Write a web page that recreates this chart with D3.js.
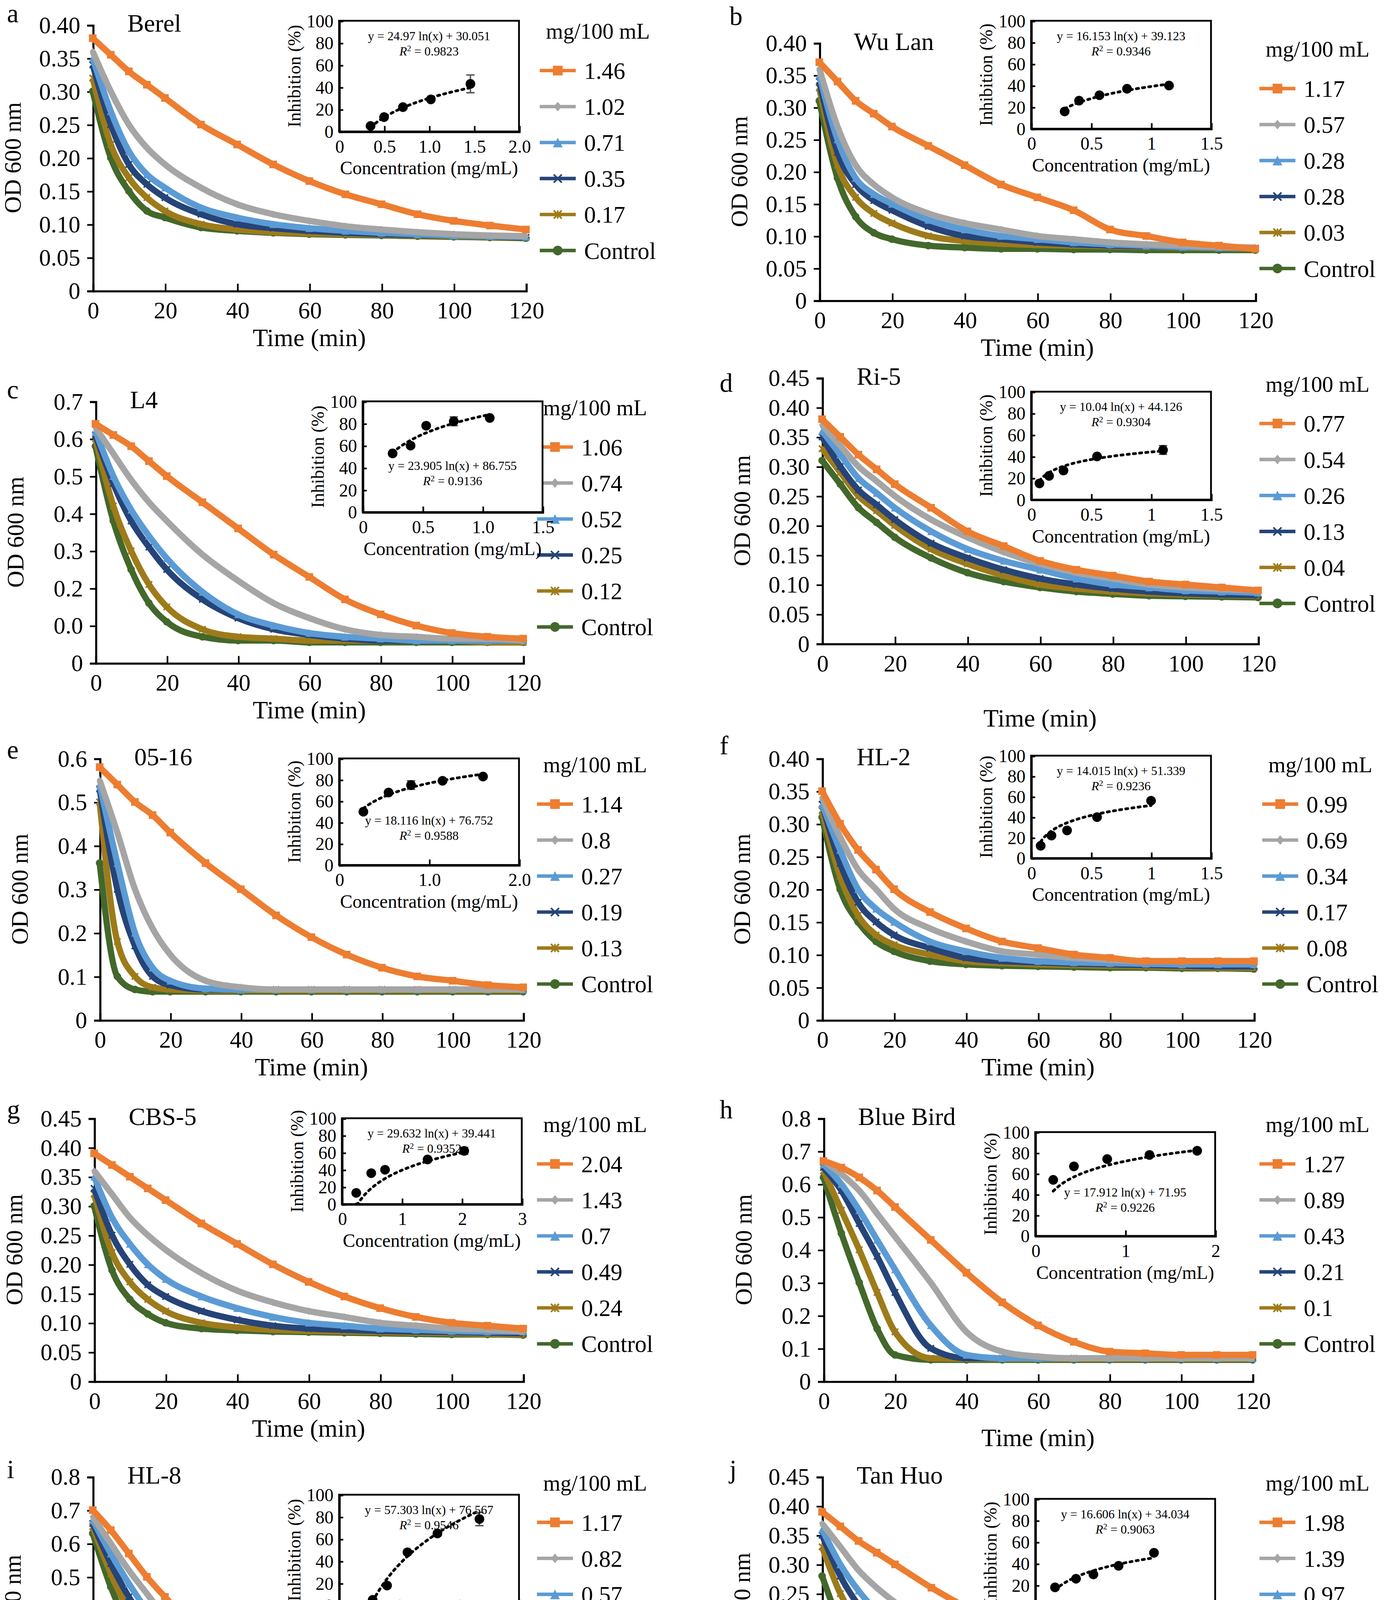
<!DOCTYPE html>
<html><head><meta charset="utf-8">
<script src="https://cdn.jsdelivr.net/npm/d3@7/dist/d3.min.js"></script>
<style>html,body{margin:0;padding:0;background:#fff;overflow:hidden}svg{display:block;width:100vw;height:auto}text{font-family:"Liberation Serif","Times New Roman",serif;fill:#000}</style>
</head><body><svg id="c" viewBox="0 0 1000 1564" preserveAspectRatio="xMinYMin meet"></svg>
<script>
const times=[0,5,10,15,20,30,40,50,60,70,80,90,100,110,120];
const colors=["#ED7D31","#A5A5A5","#5B9BD5","#264478","#9E7B1A","#43682B"];
const markers=["square","diamond","triangle","x","star","circle"];

const panelLetters=["a","b","c","d","e","f","g","h","i","j","k"];
const sampleNames=["Berel","Wu Lan","L4","Ri-5","05-16","HL-2","CBS-5","Blue Bird","HL-8","Tan Huo","Blue Gentle"];
const legendLabels=[
["1.46","1.02","0.71","0.35","0.17","Control"],
["1.17","0.57","0.28","0.28","0.03","Control"],
["1.06","0.74","0.52","0.25","0.12","Control"],
["0.77","0.54","0.26","0.13","0.04","Control"],
["1.14","0.8","0.27","0.19","0.13","Control"],
["0.99","0.69","0.34","0.17","0.08","Control"],
["2.04","1.43","0.7","0.49","0.24","Control"],
["1.27","0.89","0.43","0.21","0.1","Control"],
["1.17","0.82","0.57","0.4","0.28","Control"],
["1.98","1.39","0.97","0.68","0.33","Control"],
["2.04","1.43","1","0.7","0.34","Control"]];
const yMax=[0.40,0.40,0.7,0.45,0.6,0.40,0.45,0.8,0.8,0.45,0.40];
const yStep=[0.05,0.05,0.1,0.05,0.1,0.05,0.05,0.1,0.1,0.05,0.05];
const yTickLabelsC=["0","0.0","0.2","0.3","0.4","0.5","0.6","0.7"];
const xTicks=[0,20,40,60,80,100,120];

const od=[
[[.38,.355,.33,.31,.29,.25,.22,.19,.165,.145,.13,.115,.105,.098,.092],
 [.36,.30,.25,.215,.19,.155,.13,.115,.105,.097,.092,.088,.085,.083,.082],
 [.35,.27,.21,.175,.155,.125,.11,.10,.094,.09,.087,.085,.083,.082,.081],
 [.34,.25,.19,.16,.14,.115,.10,.094,.09,.087,.085,.084,.083,.082,.08],
 [.32,.22,.17,.14,.12,.10,.092,.088,.086,.085,.084,.083,.082,.081,.08],
 [.30,.20,.15,.12,.11,.095,.09,.087,.085,.084,.083,.082,.081,.08,.079]],
[[.37,.34,.31,.29,.27,.24,.21,.18,.16,.14,.11,.10,.09,.085,.08],
 [.36,.27,.21,.18,.16,.135,.12,.11,.10,.095,.09,.087,.085,.083,.082],
 [.35,.25,.19,.165,.15,.125,.11,.10,.095,.09,.087,.085,.083,.082,.081],
 [.34,.23,.18,.155,.14,.115,.10,.095,.09,.087,.085,.084,.083,.082,.081],
 [.33,.21,.16,.135,.12,.10,.092,.088,.086,.085,.084,.083,.082,.081,.08],
 [.31,.19,.13,.105,.095,.085,.082,.08,.08,.079,.079,.078,.078,.078,.078]],
[[.64,.61,.58,.54,.50,.43,.36,.29,.23,.17,.13,.10,.08,.07,.065],
 [.63,.56,.49,.43,.38,.29,.22,.16,.12,.09,.075,.07,.065,.065,.06],
 [.62,.50,.41,.34,.28,.19,.13,.10,.08,.07,.065,.06,.06,.06,.06],
 [.61,.48,.38,.31,.25,.17,.12,.09,.075,.065,.06,.06,.06,.06,.06],
 [.60,.42,.30,.21,.15,.09,.07,.065,.06,.06,.06,.06,.06,.055,.055],
 [.58,.38,.25,.16,.11,.07,.06,.06,.055,.055,.055,.055,.055,.055,.055]],
[[.38,.35,.32,.295,.27,.23,.19,.165,.14,.125,.115,.105,.10,.095,.09],
 [.37,.335,.30,.275,.25,.21,.18,.155,.135,.12,.11,.10,.095,.092,.09],
 [.36,.32,.28,.255,.23,.19,.16,.14,.125,.11,.10,.095,.09,.088,.086],
 [.35,.30,.26,.235,.21,.17,.145,.125,.11,.10,.093,.088,.085,.083,.082],
 [.33,.29,.25,.225,.20,.16,.135,.115,.10,.093,.088,.085,.083,.082,.081],
 [.31,.27,.23,.205,.18,.145,.12,.105,.095,.088,.084,.081,.08,.079,.078]],
[[.58,.54,.50,.47,.43,.36,.30,.24,.19,.15,.12,.10,.09,.08,.075],
 [.55,.43,.30,.21,.15,.09,.075,.07,.07,.07,.07,.07,.07,.07,.07],
 [.54,.36,.20,.12,.09,.072,.07,.07,.07,.07,.07,.07,.07,.07,.07],
 [.53,.30,.17,.10,.08,.07,.07,.07,.07,.07,.07,.07,.07,.07,.07],
 [.50,.18,.10,.075,.07,.068,.068,.068,.068,.068,.068,.068,.068,.068,.068],
 [.36,.10,.07,.065,.065,.065,.065,.065,.065,.065,.065,.065,.065,.065,.065]],
[[.35,.30,.26,.23,.20,.165,.14,.12,.11,.10,.095,.09,.09,.09,.09],
 [.34,.28,.23,.20,.17,.14,.12,.105,.10,.095,.092,.09,.09,.09,.09],
 [.33,.26,.20,.17,.15,.12,.105,.095,.09,.088,.087,.086,.085,.085,.085],
 [.33,.24,.18,.15,.13,.11,.095,.09,.088,.086,.085,.084,.083,.082,.082],
 [.32,.22,.16,.13,.115,.10,.09,.087,.085,.084,.083,.082,.081,.08,.08],
 [.31,.20,.15,.12,.105,.09,.085,.083,.082,.081,.08,.08,.079,.079,.078]],
[[.39,.37,.35,.33,.31,.27,.235,.20,.17,.145,.125,.11,.10,.095,.09],
 [.36,.32,.28,.25,.225,.185,.155,.135,.12,.11,.10,.095,.09,.088,.085],
 [.35,.28,.235,.20,.175,.145,.125,.11,.10,.095,.09,.088,.086,.085,.085],
 [.33,.25,.20,.165,.145,.12,.105,.095,.09,.088,.086,.085,.084,.083,.082],
 [.32,.22,.17,.14,.12,.10,.092,.088,.086,.085,.084,.083,.082,.081,.08],
 [.30,.19,.14,.115,.10,.09,.087,.085,.084,.083,.082,.081,.08,.08,.079]],
[[.67,.65,.62,.58,.53,.43,.33,.24,.17,.12,.09,.085,.08,.08,.08],
 [.67,.63,.58,.51,.44,.30,.15,.09,.075,.07,.07,.07,.07,.07,.07],
 [.66,.60,.52,.43,.34,.17,.08,.07,.07,.07,.07,.07,.07,.07,.07],
 [.65,.58,.48,.38,.27,.10,.07,.07,.07,.07,.07,.07,.07,.07,.07],
 [.64,.52,.40,.27,.15,.07,.068,.068,.068,.068,.068,.068,.068,.068,.068],
 [.62,.45,.30,.16,.08,.065,.065,.065,.065,.065,.065,.065,.065,.065,.065]],
[[.70,.64,.57,.50,.44,.33,.25,.19,.155,.13,.12,.115,.11,.11,.11],
 [.68,.60,.52,.45,.38,.27,.19,.14,.11,.095,.09,.09,.09,.09,.09],
 [.67,.57,.48,.40,.33,.22,.15,.11,.09,.085,.08,.08,.08,.08,.08],
 [.66,.54,.44,.36,.29,.19,.13,.10,.085,.08,.08,.08,.075,.075,.075],
 [.65,.51,.40,.32,.25,.15,.10,.08,.075,.075,.07,.07,.07,.07,.07],
 [.63,.47,.35,.26,.19,.11,.075,.07,.07,.07,.07,.07,.07,.07,.07]],
[[.39,.365,.34,.32,.30,.26,.225,.195,.17,.15,.135,.12,.11,.10,.095],
 [.37,.33,.29,.26,.235,.195,.165,.145,.13,.12,.11,.105,.10,.095,.092],
 [.36,.30,.255,.22,.20,.165,.14,.125,.115,.105,.10,.095,.093,.09,.09],
 [.35,.28,.23,.195,.17,.14,.12,.11,.10,.095,.092,.09,.088,.087,.086],
 [.33,.25,.20,.165,.145,.12,.105,.097,.092,.09,.088,.086,.085,.084,.083],
 [.28,.20,.155,.13,.115,.10,.09,.087,.085,.083,.082,.081,.08,.08,.079]],
[[.37,.32,.28,.245,.215,.17,.14,.12,.11,.105,.10,.10,.10,.095,.095],
 [.36,.31,.265,.23,.20,.16,.135,.115,.105,.10,.097,.095,.095,.093,.09],
 [.35,.29,.245,.21,.18,.145,.125,.11,.10,.097,.095,.093,.09,.09,.09],
 [.34,.27,.22,.185,.16,.13,.11,.10,.095,.093,.09,.09,.088,.087,.085],
 [.33,.25,.20,.165,.14,.115,.10,.095,.092,.09,.088,.087,.086,.085,.085],
 [.31,.22,.165,.135,.115,.10,.092,.09,.088,.087,.086,.085,.085,.084,.083]]];

const insetConc=[[0.35,0.5,0.71,1.02,1.46],[0.28,0.4,0.57,0.8,1.15],[0.25,0.4,0.53,0.76,1.06],[0.07,0.15,0.27,0.55,1.1],[0.27,0.55,0.8,1.15,1.6],[0.08,0.17,0.3,0.55,1.0],[0.24,0.49,0.72,1.43,2.04],[0.2,0.43,0.8,1.27,1.8],[0.28,0.4,0.57,0.82,1.17],[0.33,0.68,0.97,1.39,1.98],[0.5,0.7,1.0,1.43,2.04]];
const insetInhib=[[5,13,22,29,43],[16,26,31,37,40],[53,60,78,82,85],[15,22,27,40,46],[50,68,75,79,83],[12,22,27,40,56],[13,36,40,52,62],[54,67,74,78,82],[5,18,48,65,78],[18,26,30,38,50],[14,20,27,39,49]];
const insetErr=[[0,0,0,0,8],[0,0,0,0,0],[0,0,0,4,0],[0,0,0,0,4],[0,0,4,0,0],[0,0,0,0,0],[0,0,0,0,4],[0,0,0,0,0],[0,0,0,0,6],[0,0,0,0,0],[4,0,0,0,0]];
const fitA=[24.97,16.153,23.905,10.04,18.116,14.015,29.632,17.912,57.303,16.606,26.261];
const fitB=[30.051,39.123,86.755,44.126,76.752,51.339,39.441,71.95,76.567,34.034,28.43];
const fitR2=["0.9823","0.9346","0.9136","0.9304","0.9588","0.9236","0.9352","0.9226","0.9546","0.9063","0.9852"];
const insetXMax=[2,1.5,1.5,1.5,2,1.5,3,2,1.5,3,3];
const insetXTickLabels=[["0","0.5","1.0","1.5","2.0"],["0","0.5","1","1.5"],["0","0.5","1.0","1.5"],["0","0.5","1","1.5"],["0","1.0","2.0"],["0","0.5","1","1.5"],["0","1","2","3"],["0","1","2"],["0","0.5","1","1.5"],["0","1","2","3"],["0","1","2","3"]];

const L=[
{x0:67,x1:380,top:18,zero:210,lx:390,inx:245,iny:15,inh:80,eqLow:false,let:[5,16],tt:40},
{x0:592,x1:907,top:31,zero:217,lx:910,inx:745,iny:15,inh:78,eqLow:false,let:[527,18],tt:40},
{x0:69,x1:378,top:290,zero:479,lx:388,inx:262,iny:290,inh:80,eqLow:true,let:[5,288],tt:40},
{x0:594,x1:909,top:273,zero:465,lx:910,inx:745,iny:283,inh:78,eqLow:false,let:[520,283],tt:60},
{x0:72,x1:378,top:548,zero:737,lx:388,inx:245,iny:548,inh:77,eqLow:true,let:[5,548],tt:40},
{x0:594,x1:906,top:548,zero:737,lx:912,inx:745,iny:546,inh:74,eqLow:false,let:[520,545],tt:40},
{x0:68,x1:378,top:808,zero:998,lx:388,inx:247,iny:808,inh:62,eqLow:false,let:[5,808],tt:40},
{x0:595,x1:905,top:808,zero:998,lx:910,inx:748,iny:818,inh:75,eqLow:true,let:[520,808],tt:47},
{x0:67,x1:380,top:1067,zero:1260,lx:388,inx:245,iny:1080,inh:80,eqLow:false,let:[5,1068],tt:40},
{x0:594,x1:910,top:1067,zero:1257,lx:910,inx:748,iny:1083,inh:78,eqLow:false,let:[527,1068],tt:40},
{x0:322,x1:637,top:1330,zero:1517,lx:642,inx:505,iny:1330,inh:80,eqLow:false,let:[258,1335],tt:40}];

const SERIF="Liberation Serif, Times New Roman, serif";
const svg=d3.select("#c");
svg.append("rect").attr("width",1000).attr("height",1564).attr("fill","#fff");

function marker(g,type,color,x,y,s){
  if(type==="square")g.append("rect").attr("x",x-s/2).attr("y",y-s/2).attr("width",s).attr("height",s).attr("fill",color);
  else if(type==="circle")g.append("circle").attr("cx",x).attr("cy",y).attr("r",s/2).attr("fill",color);
  else if(type==="diamond")g.append("path").attr("d",`M${x},${y-s/2}L${x+s/2.5},${y}L${x},${y+s/2}L${x-s/2.5},${y}Z`).attr("fill",color);
  else if(type==="triangle")g.append("path").attr("d",`M${x},${y-s/2}L${x+s/2},${y+s/2}L${x-s/2},${y+s/2}Z`).attr("fill",color);
  else {
    const d=s/2.4;
    g.append("path").attr("d",`M${x-d},${y-d}L${x+d},${y+d}M${x-d},${y+d}L${x+d},${y-d}`+(type==="star"?`M${x},${y-d}L${x},${y+d}`:"")).attr("stroke",color).attr("stroke-width",1.2);
  }
}
function styleAxis(a,fs,w){
  a.attr("font-family",SERIF);
  a.select(".domain").attr("stroke","#000").attr("stroke-width",w);
  a.selectAll("line").attr("stroke","#000").attr("stroke-width",1.2);
  a.selectAll("text").attr("font-family",SERIF).style("font-family",SERIF).style("font-size",fs+"px");
}

od.forEach((pd,i)=>{
  const P=L[i];
  const g=svg.append("g");
  const x=d3.scaleLinear().domain([0,120]).range([P.x0,P.x1]);
  const y=d3.scaleLinear().domain([0,yMax[i]]).range([P.zero,P.top]);
  const yt=d3.range(0,yMax[i]+1e-9,yStep[i]);
  const ya=d3.axisLeft(y).tickValues(yt).tickSize(4).tickPadding(5)
    .tickFormat((v,k)=> i===2?yTickLabelsC[k]:(v===0?"0":d3.format(yStep[i]<0.1?".2f":".1f")(v)));
  styleAxis(g.append("g").attr("transform",`translate(${P.x0},0)`).call(ya),17,1.5);
  styleAxis(g.append("g").attr("transform",`translate(0,${P.zero})`).call(d3.axisBottom(x).tickValues(xTicks).tickSize(-5).tickPadding(8)),17,1.5);
  const line=d3.line().x((d,k)=>x(times[k])).y(d=>y(d)).curve(d3.curveMonotoneX);
  for(let s=pd.length-1;s>=0;s--){
    g.append("path").datum(pd[s]).attr("d",line).attr("fill","none").attr("stroke",colors[s]).attr("stroke-width",4.5).attr("stroke-linejoin","round");
    pd[s].forEach((v,k)=>marker(g,markers[s],colors[s],x(times[k]),y(v),5.5));
  }
  g.append("text").attr("x",P.x0+25).attr("y",P.top+5).style("font-size","18px").text(sampleNames[i]);
  g.append("text").attr("x",P.let[0]).attr("y",P.let[1]).style("font-size","19px").text(panelLetters[i]);
  g.append("text").attr("transform",`translate(${P.x0-52},${(P.top+P.zero)/2}) rotate(-90)`).attr("text-anchor","middle").style("font-size","17px").text("OD 600 nm");
  g.append("text").attr("x",(P.x0+P.x1)/2).attr("y",P.zero+P.tt).attr("text-anchor","middle").style("font-size","18px").text("Time (min)");
  g.append("text").attr("x",P.lx+42).attr("y",P.top+10).attr("text-anchor","middle").style("font-size","16px").text("mg/100 mL");
  legendLabels[i].forEach((lb,s)=>{
    const ly=P.top+33+s*26;
    g.append("line").attr("x1",P.lx).attr("x2",P.lx+26).attr("y1",ly).attr("y2",ly).attr("stroke",colors[s]).attr("stroke-width",2.5);
    marker(g,markers[s],colors[s],P.lx+13,ly,7);
    g.append("text").attr("x",P.lx+32).attr("y",ly+6).style("font-size","17px").text(lb);
  });
  const ix=d3.scaleLinear().domain([0,insetXMax[i]]).range([P.inx,P.inx+130]);
  const iy=d3.scaleLinear().domain([0,100]).range([P.iny+P.inh,P.iny]);
  const ig=g.append("g");
  ig.append("rect").attr("x",P.inx).attr("y",P.iny).attr("width",130).attr("height",P.inh).attr("fill","#fff").attr("stroke","#000").attr("stroke-width",1.3);
  styleAxis(ig.append("g").attr("transform",`translate(${P.inx},0)`).call(d3.axisLeft(iy).tickValues([0,20,40,60,80,100]).tickSize(-3).tickPadding(4)),13,1.3);
  const nT=insetXTickLabels[i].length;
  const xtv=d3.range(nT).map(k=>k*insetXMax[i]/(nT-1));
  styleAxis(ig.append("g").attr("transform",`translate(0,${P.iny+P.inh})`).call(d3.axisBottom(ix).tickValues(xtv).tickSize(-4).tickPadding(6).tickFormat((v,k)=>insetXTickLabels[i][k])),13,1.3);
  ig.append("text").attr("transform",`translate(${P.inx-28},${P.iny+P.inh/2}) rotate(-90)`).attr("text-anchor","middle").style("font-size","13px").text("Inhibition (%)");
  ig.append("text").attr("x",P.inx+65).attr("y",P.iny+P.inh+31).attr("text-anchor","middle").style("font-size","13.5px").text("Concentration (mg/mL)");
  const xs=insetConc[i];
  const fx=d3.range(60).map(k=>xs[0]+(xs[4]-xs[0])*k/59);
  ig.append("path").datum(fx).attr("d",d3.line().x(v=>ix(v)).y(v=>iy(Math.max(0,fitA[i]*Math.log(v)+fitB[i])))).attr("fill","none").attr("stroke","#000").attr("stroke-width",2).attr("stroke-dasharray","1.5,3").attr("stroke-linecap","round");
  xs.forEach((v,k)=>{
    const e=insetErr[i][k];
    if(e){ig.append("path").attr("d",`M${ix(v)},${iy(insetInhib[i][k]-e)}V${iy(insetInhib[i][k]+e)}M${ix(v)-3},${iy(insetInhib[i][k]-e)}h6M${ix(v)-3},${iy(insetInhib[i][k]+e)}h6`).attr("stroke","#555").attr("stroke-width",1);}
    ig.append("circle").attr("cx",ix(v)).attr("cy",iy(insetInhib[i][k])).attr("r",3.5).attr("fill","#000");
  });
  const ey=P.eqLow?P.iny+P.inh*0.62:P.iny+14;
  ig.append("text").attr("x",P.inx+65).attr("y",ey).attr("text-anchor","middle").style("font-size","9px").text(`y = ${fitA[i]} ln(x) + ${fitB[i]}`);
  const r2=ig.append("text").attr("x",P.inx+65).attr("y",ey+11).attr("text-anchor","middle").style("font-size","9px");
  r2.append("tspan").style("font-style","italic").text("R");
  r2.append("tspan").attr("dy",-3).style("font-size","6px").text("2");
  r2.append("tspan").attr("dy",3).text(" = "+fitR2[i]);
});
</script></body></html>
